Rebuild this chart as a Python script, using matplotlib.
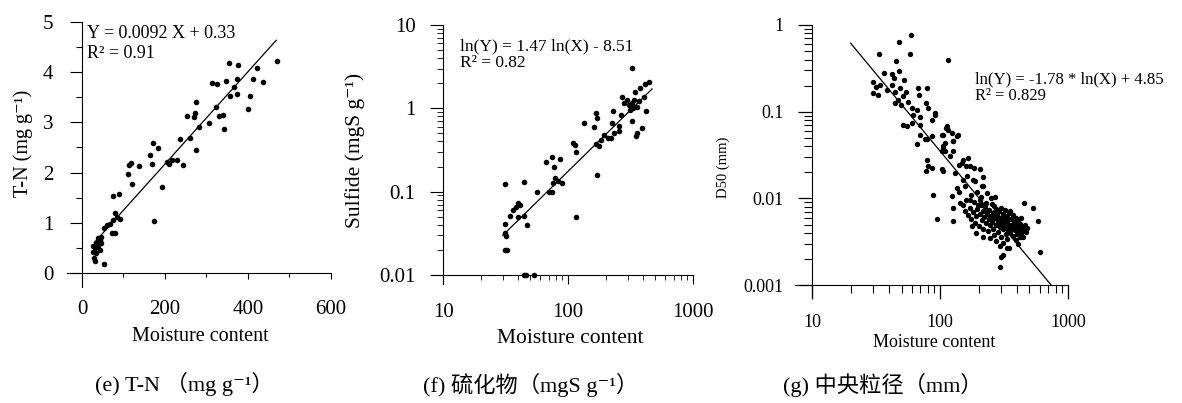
import matplotlib
matplotlib.use("Agg")
import matplotlib.pyplot as plt
from matplotlib.ticker import FixedLocator, NullFormatter, FuncFormatter
import numpy as np

plt.rcParams['font.family'] = ['Liberation Serif', 'DejaVu Serif', 'Noto Sans CJK SC']

# ---------------- data ----------------
# (e) T-N vs moisture content
tn_x = [354, 377, 469, 421, 313, 325, 347, 373, 367, 413, 437, 373, 357, 405, 401,
        275, 272, 252, 270, 323, 331, 339, 307, 283, 342, 260, 236, 275, 170, 184,
        164, 168, 117, 114, 138, 112, 120, 194, 204, 216, 228, 243, 210, 75, 90,
        80, 84, 92, 75, 60, 67, 72, 80, 174, 53, 39, 43, 35, 47, 31, 39, 27, 35,
        28, 31, 43, 53, 27, 45]
tn_y = [4.18, 4.14, 4.23, 4.09, 3.78, 3.77, 3.82, 3.86, 3.71, 3.86, 3.80, 3.57, 3.53, 3.53, 3.26,
        3.41, 3.18, 3.13, 3.10, 3.30, 3.13, 3.15, 2.98, 2.91, 2.86, 2.68, 2.67, 2.45, 2.58, 2.48,
        2.35, 2.18, 2.19, 2.15, 2.13, 1.97, 1.77, 1.72, 2.22, 2.25, 2.26, 2.16, 2.18, 1.54, 1.57,
        1.19, 1.12, 1.07, 1.05, 0.96, 0.98, 0.80, 0.79, 1.04, 0.89, 0.69, 0.65, 0.59, 0.72, 0.49, 0.53, 0.42, 0.39,
        0.29, 0.23, 0.46, 0.18, 0.53, 0.59]
tn_fit = [0.0092, 0.33]
tn_range = [30, 468]

# (f) Sulfide vs moisture content
su_x = [325, 448, 414, 378, 345, 402, 271, 297, 325, 356, 315, 330, 418, 229, 167,
        263, 172, 162, 135, 226, 255, 325, 356, 390, 350, 195, 207, 183, 167, 232,
        255, 220, 178, 109, 113, 116, 169, 66, 74, 87, 77, 78, 83, 76, 90,
        70, 74, 56, 44, 31, 40, 38, 41, 36, 44, 40, 47, 34, 31, 31, 32, 31, 32.5,
        116, 44, 46, 53, 279, 305, 335, 367]
su_y = [3.03, 2.09, 1.96, 1.75, 1.59, 1.38, 1.38, 1.27, 1.15, 1.05, 0.96, 1.00, 0.92, 0.94, 0.89,
        0.84, 0.76, 0.60, 0.67, 0.67, 0.61, 0.70, 0.50, 0.58, 0.46, 0.48, 0.44, 0.42, 0.376, 0.50,
        0.53, 0.44, 0.35, 0.38, 0.36, 0.30, 0.16, 0.23, 0.26, 0.25, 0.20, 0.146, 0.133, 0.126, 0.126,
        0.10, 0.10, 0.10, 0.129, 0.122, 0.073, 0.066, 0.070, 0.060, 0.051, 0.050, 0.040, 0.051, 0.041, 0.032, 0.029, 0.020, 0.020,
        0.050, 0.010, 0.010, 0.010, 1.15, 1.11, 1.27, 1.22]
su_fit = [1.47, -8.51]
su_range = [30, 470]

# (g) D50 vs moisture content
d50_x = [33.6, 47.6, 59.0, 58.3, 45.3, 116, 36.7, 42.0, 48.1, 43.7, 52.3, 30.1, 31.6, 33.9,
         30.1, 33.0, 38.3, 42.0, 44.5, 48.7, 54.2, 51.7, 47.2, 44.5, 49.3, 56.5, 60.1, 65.7,
         78.7, 68.9, 77.8, 81.1, 91.4, 86.1, 61.8, 69.8, 51.1, 55.6, 60.1, 69.8, 66.5, 78.7,
         86.1, 106, 103, 116, 78.7, 81.1, 77.8, 86.1, 87.7, 94.2, 109, 103,
         113, 139, 106, 127, 109, 103, 127, 120, 166, 148, 205, 106, 131, 162, 188, 212, 157,
         135, 232, 123, 143, 171, 199, 127, 453, 530, 586, 604, 127, 294, 313, 294, 409, 332,
         302, 345, 67.6, 91.4, 70, 76, 112, 123, 135, 127, 106, 152, 171, 181, 218,
         140, 150, 175, 195, 210, 250, 185, 140, 160, 215, 270,
         150, 158, 165, 170, 175, 180, 185, 188, 192, 196, 200, 204, 208, 212, 215, 218,
         222, 226, 230, 233, 236, 240, 243, 246, 250, 253, 256, 260, 263, 266, 270, 273,
         276, 280, 283, 286, 290, 293, 296, 300, 304, 308, 312, 316, 320, 324, 328, 332,
         336, 340, 345, 350, 355, 360, 365, 370, 375, 380, 385, 390, 396, 402, 408, 414,
         420, 428, 436, 444, 452, 460, 470, 480, 245, 275, 310, 335, 265, 300, 230, 205,
         355, 390, 420, 160, 178, 320, 287, 258, 235, 342, 372, 398, 430, 190, 215]
d50_y = [0.464, 0.643, 0.77, 0.464, 0.389, 0.396, 0.278, 0.273, 0.291, 0.244, 0.233, 0.223, 0.195, 0.204,
         0.164, 0.157, 0.179, 0.204, 0.171, 0.187, 0.171, 0.150, 0.137, 0.126, 0.120, 0.131, 0.110, 0.105,
         0.187, 0.157, 0.126, 0.110, 0.092, 0.081, 0.092, 0.088, 0.071, 0.068, 0.074, 0.054, 0.042, 0.048,
         0.052, 0.038, 0.054, 0.062, 0.028, 0.0235, 0.0206, 0.0225, 0.0111, 0.0058, 0.035, 0.0216,
         0.068, 0.054, 0.054, 0.046, 0.044, 0.035, 0.035, 0.0306, 0.0293, 0.0257, 0.0216, 0.0206, 0.0197, 0.018, 0.0158, 0.0139, 0.0139,
         0.0133, 0.0116, 0.0106, 0.0089, 0.0097, 0.0085, 0.0078, 0.0088, 0.0078, 0.0055, 0.0024, 0.0055, 0.0028, 0.0022, 0.0016, 0.0030, 0.0027,
         0.0021, 0.0027, 0.187, 0.096, 0.071, 0.048, 0.065, 0.057, 0.052, 0.046, 0.040, 0.028, 0.0235, 0.0165, 0.014,
         0.012, 0.0165, 0.011, 0.012, 0.0105, 0.010, 0.0225, 0.024, 0.0235, 0.0175, 0.0105,
         0.0085, 0.0072, 0.0064, 0.0078, 0.0058, 0.0069, 0.0090, 0.0052, 0.0062, 0.0075, 0.0048, 0.0066, 0.0083, 0.0056, 0.0071, 0.0045,
         0.0061, 0.0079, 0.0052, 0.0067, 0.0042, 0.0058, 0.0074, 0.0049, 0.0063, 0.0086, 0.0054, 0.0044, 0.0069, 0.0038, 0.0059, 0.0076,
         0.0050, 0.0064, 0.0041, 0.0055, 0.0071, 0.0047, 0.0060, 0.0036, 0.0052, 0.0066, 0.0044, 0.0057, 0.0073, 0.0048, 0.0039, 0.0061,
         0.0053, 0.0045, 0.0068, 0.0050, 0.0041, 0.0058, 0.0046, 0.0064, 0.0037, 0.0053, 0.0043, 0.0060, 0.0048, 0.0039, 0.0055, 0.0044,
         0.0051, 0.0040, 0.0047, 0.0036, 0.0043, 0.0050, 0.0041, 0.0046, 0.0035, 0.0032, 0.0031, 0.0034, 0.0081, 0.0078, 0.0088, 0.0095,
         0.0072, 0.0033, 0.0036, 0.0095, 0.0048, 0.0062, 0.0049, 0.0061, 0.0072, 0.0058, 0.0050, 0.0057, 0.0060, 0.0040, 0.0036]
d50_fit = [-1.78, 4.85]
d50_range = [20, 740]

x_label = "Moisture content"
captions = ["(e) T-N （mg g⁻¹）", "(f) 硫化物（mgS g⁻¹）", "(g) 中央粒径（mm）"]
eq_texts = [("Y = 0.0092 X + 0.33", "R² = 0.91"),
            ("ln(Y) = 1.47 ln(X) - 8.51", "R² = 0.82"),
            ("ln(Y) = -1.78 * ln(X) + 4.85", "R² = 0.829")]
y_labels = ["T-N (mg g⁻¹)", "Sulfide (mgS g⁻¹)", "D50 (mm)"]

# ---------------- figure ----------------
W, H = 1182, 403
fig = plt.figure(figsize=(W / 100, H / 100), dpi=100)


def box(l, t, r, b):
    return [l / W, 1 - b / H, (r - l) / W, (b - t) / H]


def fxy(x, y):
    return (x / W, 1 - y / H)


def log_minor(lo_exp, hi_exp):
    return [m * 10.0 ** e for e in range(lo_exp, hi_exp) for m in range(2, 10)]


axE = fig.add_axes(box(67, 22, 331, 287))
axF = fig.add_axes(box(433, 25, 693, 284))
axG = fig.add_axes(box(795, 25, 1068, 297))

for ax in (axE, axF, axG):
    ax.spines['top'].set_visible(False)
    ax.spines['right'].set_visible(False)
    for s in ('left', 'bottom'):
        ax.spines[s].set_linewidth(0.8)
    ax.patch.set_alpha(0)

logfmt = FuncFormatter(lambda v, p: f"{v:g}")

# ---- panel e ----
axE.scatter(tn_x, tn_y, s=16, color='black', linewidths=0, zorder=3)
fx = np.array(tn_range, dtype=float)
axE.plot(fx, tn_fit[0] * fx + tn_fit[1], color='black', lw=0.9)
axE.set_xlim(-36, 600)
axE.set_ylim(-0.28, 5)
axE.spines['left'].set_position(('data', 0))
axE.spines['bottom'].set_position(('data', 0))
axE.xaxis.set_major_locator(FixedLocator([0, 200, 400, 600]))
axE.xaxis.set_minor_locator(FixedLocator([100, 300, 500]))
axE.yaxis.set_major_locator(FixedLocator([0, 1, 2, 3, 4, 5]))
axE.yaxis.set_minor_locator(FixedLocator([0.5, 1.5, 2.5, 3.5, 4.5]))
axE.tick_params(axis='y', which='major', length=8.6, width=0.8, pad=12, labelsize=15)
axE.tick_params(axis='y', which='minor', length=4.3, width=0.8)
axE.tick_params(axis='x', which='major', length=4.3, width=0.8, pad=15, labelsize=15)
axE.tick_params(axis='x', which='minor', length=2.9, width=0.8)

# ---- panel f ----
axF.set_xscale('log')
axF.set_yscale('log')
axF.scatter(su_x, su_y, s=16, color='black', linewidths=0, zorder=3)
fx = np.array(su_range, dtype=float)
axF.plot(fx, np.exp(su_fit[0] * np.log(fx) + su_fit[1]), color='black', lw=0.9)
axF.set_xlim(8.3, 1000)
axF.set_ylim(0.0078, 10)
axF.spines['left'].set_position(('data', 10))
axF.spines['bottom'].set_position(('data', 0.01))
axF.xaxis.set_major_locator(FixedLocator([10, 100, 1000]))
axF.yaxis.set_major_locator(FixedLocator([0.01, 0.1, 1, 10]))
axF.xaxis.set_minor_locator(FixedLocator(log_minor(1, 3)))
axF.yaxis.set_minor_locator(FixedLocator(log_minor(-2, 1)))
axF.xaxis.set_major_formatter(logfmt)
axF.yaxis.set_major_formatter(logfmt)
axF.xaxis.set_minor_formatter(NullFormatter())
axF.yaxis.set_minor_formatter(NullFormatter())
axF.tick_params(axis='y', which='major', length=9.4, width=0.8, pad=10.5, labelsize=15)
axF.tick_params(axis='y', which='minor', length=4.3, width=0.6)
axF.tick_params(axis='x', which='major', length=6.5, width=0.8, pad=14, labelsize=15)
axF.tick_params(axis='x', which='minor', length=3.6, width=0.6)

# ---- panel g ----
axG.set_xscale('log')
axG.set_yscale('log')
axG.scatter(d50_x, d50_y, s=15, color='black', linewidths=0, zorder=3)
fx = np.array(d50_range, dtype=float)
axG.plot(fx, np.exp(d50_fit[0] * np.log(fx) + d50_fit[1]), color='black', lw=0.9)
axG.set_xlim(7.35, 1000)
axG.set_ylim(0.00073, 1)
axG.spines['left'].set_position(('data', 10))
axG.spines['bottom'].set_position(('data', 0.001))
axG.xaxis.set_major_locator(FixedLocator([10, 100, 1000]))
axG.yaxis.set_major_locator(FixedLocator([0.001, 0.01, 0.1, 1]))
axG.xaxis.set_minor_locator(FixedLocator(log_minor(1, 3)))
axG.yaxis.set_minor_locator(FixedLocator(log_minor(-3, 0)))
axG.xaxis.set_major_formatter(logfmt)
axG.yaxis.set_major_formatter(logfmt)
axG.xaxis.set_minor_formatter(NullFormatter())
axG.yaxis.set_minor_formatter(NullFormatter())
axG.tick_params(axis='y', which='major', length=10, width=0.9, pad=10.5, labelsize=13)
axG.tick_params(axis='y', which='minor', length=5.8, width=0.8)
axG.tick_params(axis='x', which='major', length=10, width=0.9, pad=11, labelsize=13)
axG.tick_params(axis='x', which='minor', length=5.8, width=0.8)

# ---- labels ----
xl_pos = [(200.5, 327, 14.5), (570.5, 329, 15.5), (934, 334, 13)]
yl_pos = [(23, 143, 14.5), (355, 150, 15.5), (723, 167, 10.5)]
cap_pos = [(184.5, 384), (531, 385), (882.5, 385)]
eq_pos = [(87, 33, 53, 13), (460, 46, 63, 12.5), (975, 79, 96, 12)]

for ax, (xx, yy, fs) in zip((axE, axF, axG), xl_pos):
    ax.set_xlabel(x_label, fontsize=fs, va='top')
    ax.xaxis.set_label_coords(*fxy(xx, yy), transform=fig.transFigure)

for ax, lab, (xx, yy, fs) in zip((axE, axF, axG), y_labels, yl_pos):
    ax.set_ylabel(lab, fontsize=fs, va='center', ha='center')
    ax.yaxis.set_label_coords(*fxy(xx, yy), transform=fig.transFigure)

for ax, (l1, l2), (xx, y1, y2, fs) in zip((axE, axF, axG), eq_texts, eq_pos):
    fig.text(*fxy(xx, y1), l1, fontsize=fs, ha='left', va='center')
    fig.text(*fxy(xx, y2), l2, fontsize=fs, ha='left', va='center')

for cap, (xx, yy) in zip(captions, cap_pos):
    fig.text(*fxy(xx, yy), cap, fontsize=16, ha='center', va='center')

fig.savefig("out.png", dpi=100)
